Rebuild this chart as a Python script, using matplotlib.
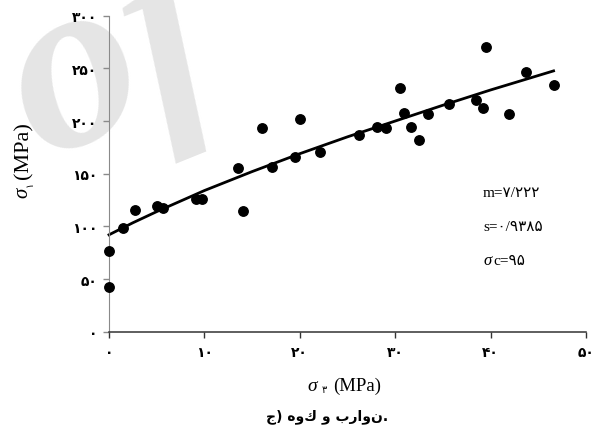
import matplotlib
matplotlib.use('Agg')
import matplotlib.pyplot as plt

# داده‌ها (از روی تصویر خوانده شده)
sigma3 = [0, 0, 1.5, 2.7, 5.0, 5.7, 9.1, 9.7, 13.5, 14.0,
          16.0, 17.1, 19.5, 20.0, 22.1, 26.2, 28.1, 29.0, 30.5, 30.9,
          31.7, 32.5, 33.4, 35.6, 38.5, 39.2, 39.5, 41.9, 43.7, 46.6]
sigma1 = [42, 77, 98.5, 116, 119, 117, 126, 126, 155, 115,
          193, 156, 166, 202, 171, 187, 194, 193, 231, 208,
          194, 182, 207, 216, 220, 212, 270, 207, 247, 234]

# منحنی برازش هوک و براون (خوانده شده از تصویر)
fit_s3 = [0, 2.5, 5, 10, 15, 20, 25, 30, 35, 40, 46.6]
fit_s1 = [92, 103.4, 114, 134, 152, 169, 185, 200, 215, 229.5, 247.6]

x_ticks = [0, 10, 20, 30, 40, 50]
y_ticks = [0, 50, 100, 150, 200, 250, 300]
params = [('', 'm=۷/۲۲۲'), ('', 's=۰/۹۳۸۵'), ('σ', 'c=۹۵')]
caption = 'ج) هوك و براون.'

fa = str.maketrans('0123456789', '۰۱۲۳۴۵۶۷۸۹')
W, H = 596, 439


def px(x, y):
    return x / W, 1 - y / H


serif = ['Liberation Serif', 'DejaVu Sans']

fig = plt.figure(figsize=(W / 100, H / 100), dpi=100)

# واترمارک
fig.text(*px(40, 160), 'of', fontsize=180, rotation=22, rotation_mode='anchor',
         ha='left', va='baseline', family='Liberation Serif', style='italic',
         weight='bold', color='#e5e5e5', zorder=0)

ax = fig.add_axes([109 / W, 1 - 332.7 / H, 477 / W, 316 / H])
ax.set_zorder(2)
ax.patch.set_alpha(0)

ax.plot(fit_s3, fit_s1, color='black', lw=2, zorder=2, clip_on=False)
ax.plot(sigma3, sigma1, 'o', color='black', ms=6.8, zorder=3, clip_on=False)

ax.set_xlim(0, 50)
ax.set_ylim(0, 300)
ax.spines['top'].set_visible(False)
ax.spines['right'].set_visible(False)
ax.spines['left'].set_color('#8a8a8a')
ax.spines['bottom'].set_color('#333333')
ax.spines['bottom'].set_linewidth(1.1)

ax.set_xticks(x_ticks)
ax.set_xticklabels([str(v).translate(fa) for v in x_ticks])
ax.set_yticks(y_ticks)
ax.set_yticklabels([str(v).translate(fa) for v in y_ticks])
ax.tick_params(axis='x', direction='out', length=4.5, width=1, color='#333333', pad=5)
ax.tick_params(axis='y', direction='out', length=4.5, width=1, color='#8a8a8a', pad=4)
for lab in ax.get_xticklabels() + ax.get_yticklabels():
    lab.set_fontfamily('DejaVu Sans')
    lab.set_fontweight('bold')
    lab.set_fontsize(10)

# برچسب محور x
fig.text(*px(307, 391), 'σ', fontsize=14, family=serif, style='italic', ha='left', va='baseline')
fig.text(*px(322, 393), '۳', fontsize=7, family='DejaVu Sans', ha='left', va='baseline')
fig.text(*px(333, 391), '(MPa)', fontsize=13.5, family=serif, ha='left', va='baseline')

# برچسب محور y
fig.text(*px(32, 198), 'σ', fontsize=15, family=serif, style='italic', rotation=90,
         ha='right', va='bottom')
fig.text(*px(35, 187), '۱', fontsize=7, family='DejaVu Sans', rotation=90,
         ha='right', va='bottom')
fig.text(*px(33, 179), '(MPa)', fontsize=16, family=serif, rotation=90,
         ha='right', va='bottom')

# پارامترها
for i, (g, t) in enumerate(params):
    y = 197 + i * 34
    x0 = 483
    if g:
        fig.text(*px(x0, y), g, fontsize=12, family=serif, style='italic',
                 ha='left', va='baseline')
        x0 += 10
    fig.text(*px(x0, y), t, fontsize=11, family=serif, ha='left', va='baseline')

fig.text(*px(327, 417), caption, fontsize=10, family='DejaVu Sans', weight='bold',
         ha='center', va='center')

fig.savefig('out.png', dpi=100)
